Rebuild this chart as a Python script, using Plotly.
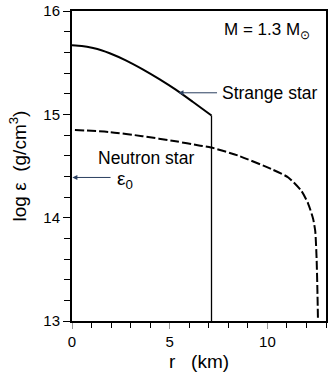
import plotly.graph_objects as go

# density profiles, M = 1.3 Msun
strange_r = [0.0, 0.5, 1.08, 1.5, 1.93, 2.78, 3.62, 4.47, 5.31, 6.16, 7.14]
strange_loge = [15.67, 15.663, 15.643, 15.622, 15.593, 15.522, 15.437, 15.342, 15.24, 15.125, 14.99]

neutron_r = [0.15, 1.93, 3.6, 5.31, 6.5, 7.12, 8.53, 10.22, 11.07, 11.74, 12.08, 12.34, 12.45, 12.52, 12.56, 12.59]
neutron_loge = [14.85, 14.83, 14.79, 14.74, 14.70, 14.68, 14.60, 14.47, 14.39, 14.26, 14.14, 13.99, 13.87, 13.6, 13.3, 13.0]

eps0 = 14.39
x_ticks = [0, 5, 10]
y_ticks = [13, 14, 15, 16]

font = "Liberation Sans, Arial, sans-serif"

fig = go.Figure()
fig.add_trace(go.Scatter(x=strange_r, y=strange_loge, mode="lines",
                         line=dict(color="black", width=2, shape="spline", smoothing=0.6)))
# surface of the strange star
fig.add_trace(go.Scatter(x=[strange_r[-1], strange_r[-1]], y=[strange_loge[-1], y_ticks[0]],
                         mode="lines", line=dict(color="black", width=1.3)))
fig.add_trace(go.Scatter(x=neutron_r, y=neutron_loge, mode="lines",
                         line=dict(color="black", width=2, dash="9px,3px", shape="spline", smoothing=0.6)))

fig.add_annotation(x=12.3, y=15.81, text="M = 1.3 M<sub>\u2299</sub>", showarrow=False,
                   xanchor="right", font=dict(size=17))
fig.add_annotation(x=5.45, y=15.21, ax=7.5, ay=15.21, axref="x", ayref="y",
                   text="", showarrow=True, arrowhead=2, arrowsize=1, arrowwidth=1)
fig.add_annotation(x=7.6, y=15.21, text="Strange star", showarrow=False,
                   xanchor="left", font=dict(size=17.5))
fig.add_annotation(x=1.25, y=14.58, text="Neutron star", showarrow=False,
                   xanchor="left", font=dict(size=17.5))
fig.add_annotation(x=0.02, y=eps0, ax=2.05, ay=eps0, axref="x", ayref="y",
                   text="", showarrow=True, arrowhead=2, arrowsize=1, arrowwidth=1)
fig.add_annotation(x=2.2, y=eps0 - 0.02, text="\u03b5<sub>0</sub>", showarrow=False,
                   xanchor="left", font=dict(size=19))

fig.update_xaxes(range=[0, 13], tickvals=x_ticks, ticks="outside", ticklen=6,
                 tickcolor="#999", minor=dict(dtick=1, ticks="outside", ticklen=5, tickcolor="black"),
                 showline=True, linecolor="black", linewidth=2, mirror=True,
                 showgrid=False, zeroline=False, tickfont=dict(size=15),
                 title=dict(text="r   (km)", font=dict(size=19), standoff=6))
fig.update_yaxes(range=[13, 16.002], tickvals=y_ticks, ticks="outside", ticklen=7,
                 tickcolor="black", minor=dict(dtick=0.2, ticks="outside", ticklen=6, tickcolor="black"),
                 showline=True, linecolor="black", linewidth=2, mirror=True,
                 showgrid=False, zeroline=False, ticklabeloverflow="allow", tickfont=dict(size=15),
                 title=dict(text="log \u03b5  (g/cm<sup>3</sup>)", font=dict(size=19), standoff=12))

fig.update_layout(width=330, height=382, margin=dict(l=72, r=2, t=6, b=61),
                  plot_bgcolor="white", paper_bgcolor="white", showlegend=False,
                  font=dict(family=font, size=16, color="black"))

fig.write_html("out.html", config={"displayModeBar": False},
               post_script="document.body.style.margin='0';")
